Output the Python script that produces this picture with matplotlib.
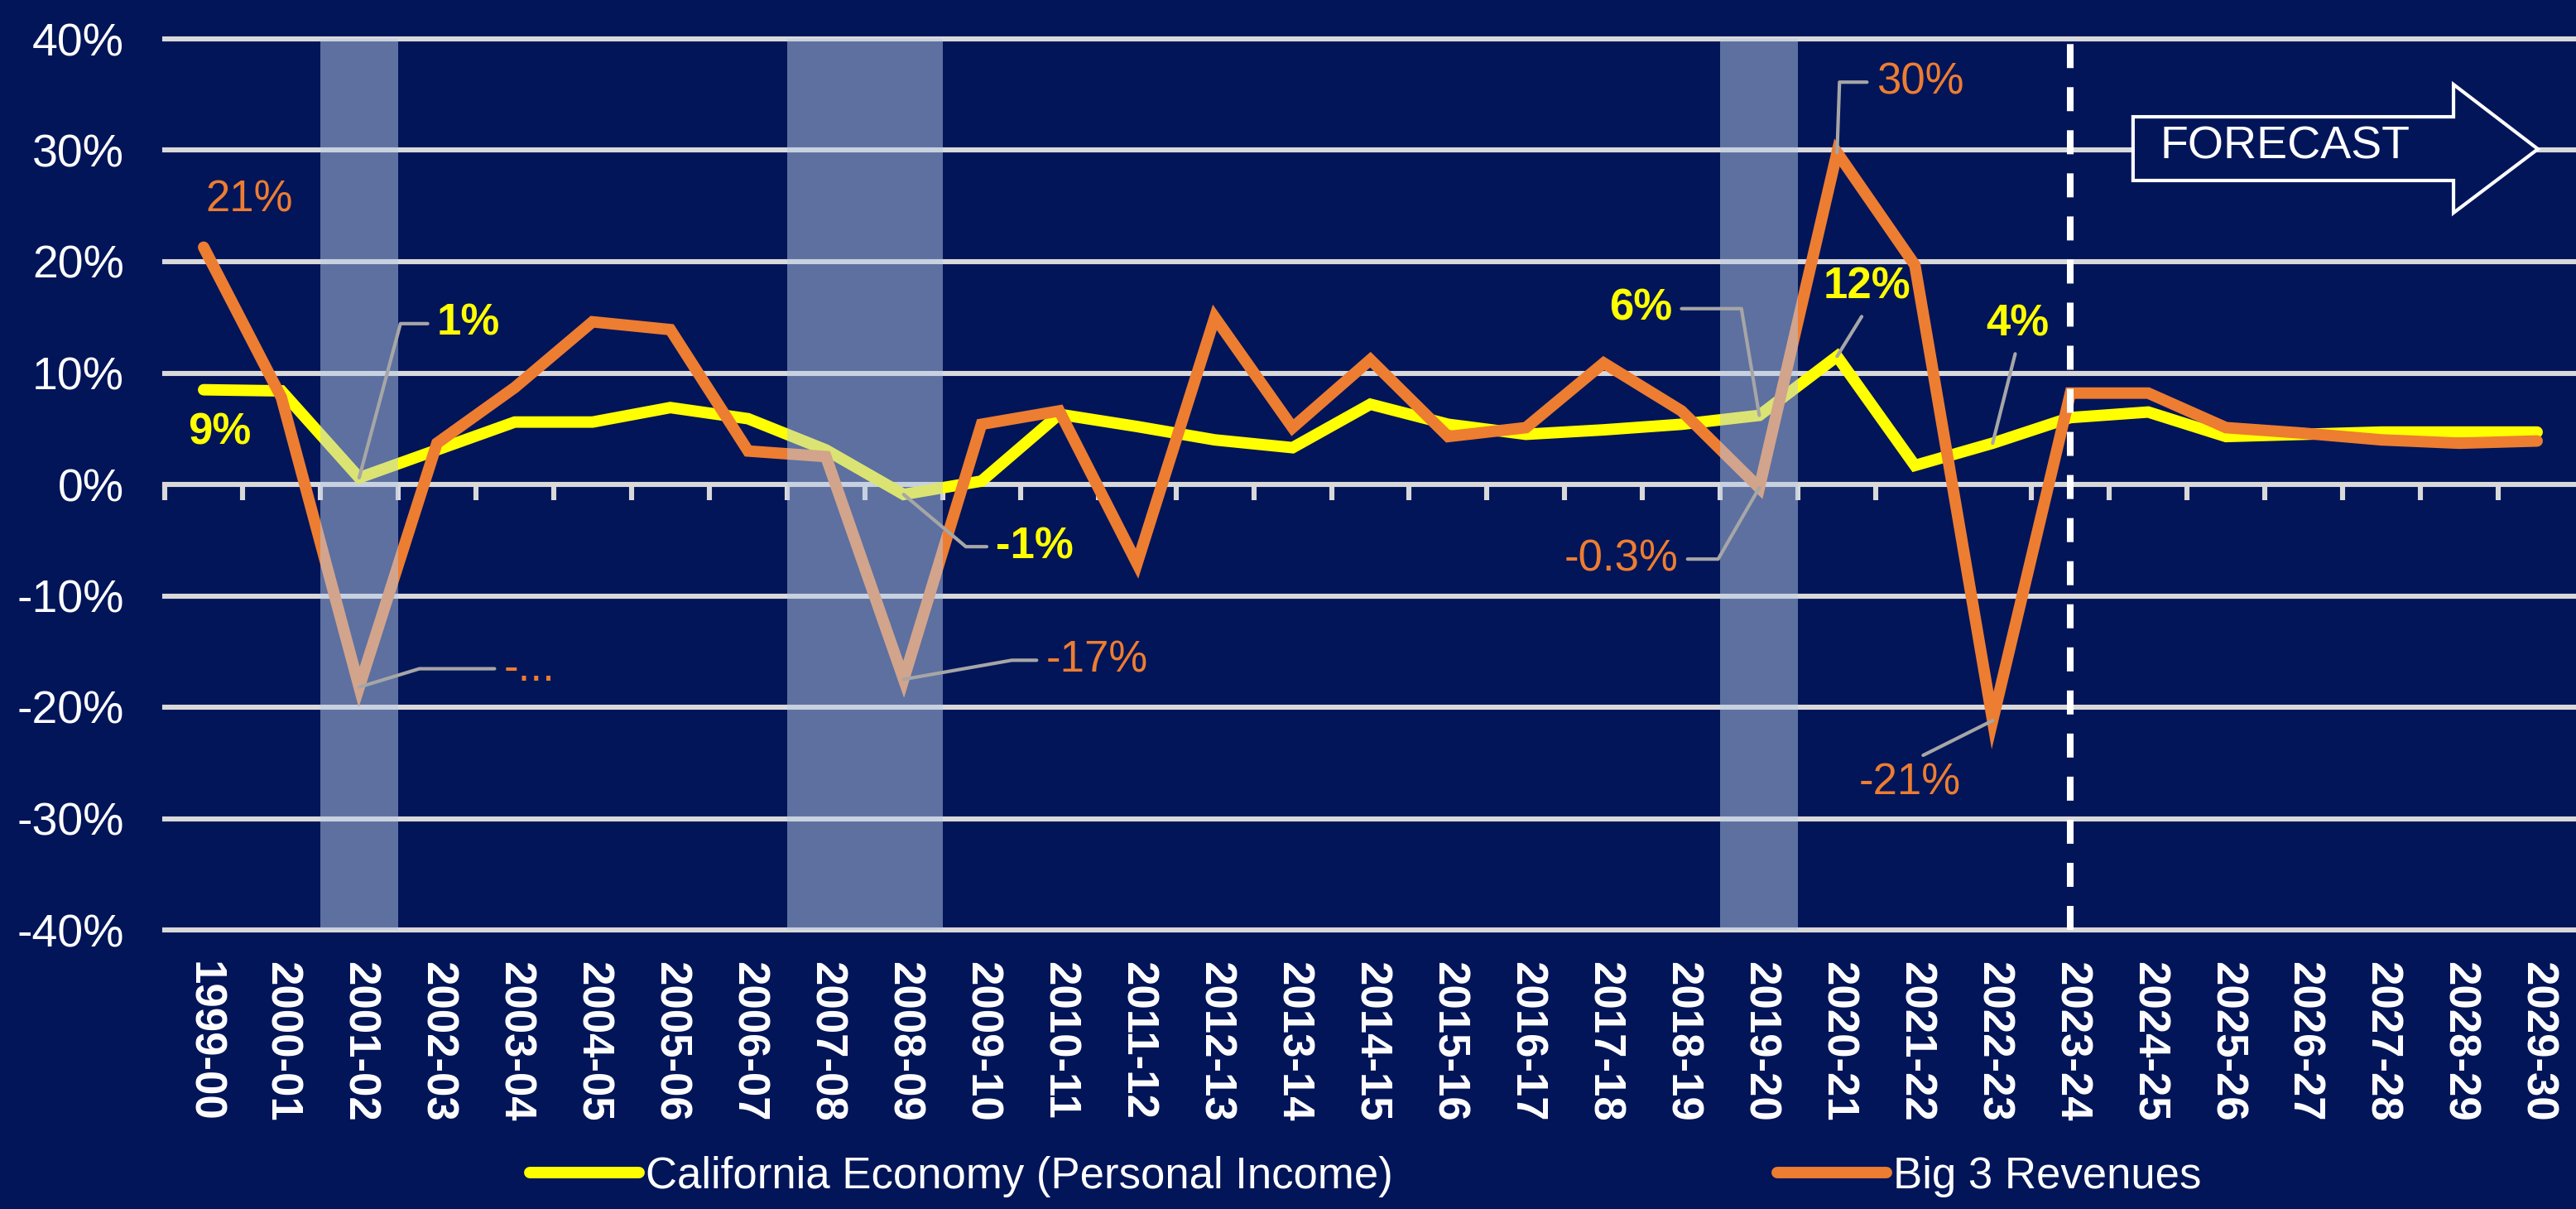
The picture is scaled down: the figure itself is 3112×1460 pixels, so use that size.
import numpy as np
import matplotlib
matplotlib.use("Agg")
import matplotlib.pyplot as plt
from matplotlib.patches import Polygon

plt.rcParams["font.family"] = ["Liberation Sans", "DejaVu Sans"]

""" Data """
years = ["1999-00", "2000-01", "2001-02", "2002-03", "2003-04", "2004-05", "2005-06",
         "2006-07", "2007-08", "2008-09", "2009-10", "2010-11", "2011-12", "2012-13",
         "2013-14", "2014-15", "2015-16", "2016-17", "2017-18", "2018-19", "2019-20",
         "2020-21", "2021-22", "2022-23", "2023-24", "2024-25", "2025-26", "2026-27",
         "2027-28", "2028-29", "2029-30"]
income = [8.5, 8.4, 0.6, 3.1, 5.6, 5.6, 6.9, 5.9, 3.1, -0.9, 0.3, 6.3, 5.2, 4.0, 3.3, 7.2,
          5.4, 4.5, 4.9, 5.4, 6.2, 11.5, 1.7, 3.7, 6.0, 6.5, 4.3, 4.5, 4.7, 4.7, 4.7]
revenues = [21.3, 7.8, -18.2, 3.7, 8.7, 14.6, 13.9, 3.0, 2.5, -17.5, 5.4, 6.6, -7.1, 15.0,
            5.1, 11.2, 4.3, 5.1, 10.9, 6.6, -0.3, 29.8, 19.7, -21.2, 8.2, 8.2, 5.1, 4.6,
            4.0, 3.7, 3.9]
recession_years = [["2001-02"], ["2007-08", "2008-09"], ["2019-20"]]
forecast_start = "2023-24"
income_name = "California Economy (Personal Income)"
revenues_name = "Big 3 Revenues"

# (series, year, text)
point_labels = [
    ("revenues", "1999-00", "21%"),
    ("income", "1999-00", "9%"),
    ("income", "2001-02", "1%"),
    ("revenues", "2001-02", "-..."),
    ("income", "2008-09", "-1%"),
    ("revenues", "2008-09", "-17%"),
    ("income", "2019-20", "6%"),
    ("revenues", "2019-20", "-0.3%"),
    ("income", "2020-21", "12%"),
    ("revenues", "2020-21", "30%"),
    ("revenues", "2022-23", "-21%"),
    ("income", "2022-23", "4%"),
]

""" Style """
NAVY = "#021559"
YELLOW = "#FFFF00"
ORANGE = "#ED7D31"
GRID = "#D9D9D9"
LEADER = "#A6A6A6"
BAND = (184 / 255, 203 / 255, 231 / 255)

# label offsets in points from the point, and leader type
label_layout = {
    ("revenues", "1999-00"): (20, 20.5, None),
    ("income", "1999-00"): (7, -18.5, None),
    ("income", "2001-02"): (47.5, 67, ("angle", 75)),
    ("revenues", "2001-02"): (74, 8, ("angle", 17)),
    ("income", "2008-09"): (57, -22.7, ("angle", -40)),
    ("revenues", "2008-09"): (84, 8.3, ("angle", 10)),
    ("income", "2019-20"): (-51.5, 46.4, ("angle", 99.5)),
    ("revenues", "2019-20"): (-60, -31, ("angle", 60)),
    ("income", "2020-21"): (13, 30, ("straight", (0.5, 0))),
    ("revenues", "2020-21"): (36, 30.6, ("angle", 88)),
    ("revenues", "2022-23"): (-36, -27, ("straight", (0.5, 1))),
    ("income", "2022-23"): (10.8, 51.8, ("straight", (0.5, 0))),
}

fig = plt.figure(figsize=(3112 / 200, 1460 / 200), dpi=200, facecolor=NAVY)
ax = fig.add_axes([199 / 3112, 1 - 1123 / 1460, 2913 / 3112, 1076 / 1460])
ax.set_facecolor(NAVY)

x = np.arange(len(years))
line_income, = ax.plot(x, income, color=YELLOW, lw=5, solid_capstyle="round",
                       solid_joinstyle="miter", zorder=3, label=income_name)
line_rev, = ax.plot(x, revenues, color=ORANGE, lw=5, solid_capstyle="round",
                    solid_joinstyle="miter", zorder=3.1, label=revenues_name)

# recession bands on top of the lines (they fade them)
for group in recession_years:
    i0 = years.index(group[0])
    i1 = years.index(group[-1])
    ax.axvspan(i0 - 0.5, i1 + 0.5, color=BAND, alpha=0.5, lw=0, zorder=5)

# forecast divider
fi = years.index(forecast_start)
ax.axvline(fi, color="white", lw=2.9, dashes=(3.6, 2.86), zorder=4)

# axes setup
ax.set_xlim(-0.5, len(years) - 0.5)
ax.set_ylim(-40, 40)
ax.set_yticks(np.arange(-40, 41, 10))
ax.yaxis.set_major_formatter(plt.FuncFormatter(lambda v, p: "{:.0f}%".format(v)))
ax.set_xticks(x)
ax.set_xticklabels(years, rotation=270, fontsize=19, fontweight="bold", color="white",
                   ha="center", va="top")
ax.tick_params(axis="x", length=0, pad=13.7)
ax.tick_params(axis="y", length=0, pad=17.6, labelsize=20, labelcolor="white")
ax.yaxis.grid(True, color=GRID, lw=2.2, zorder=1)
ax.set_axisbelow(True)
for gl in ax.get_ygridlines():
    gl.set_clip_on(False)
for s in ax.spines.values():
    s.set_visible(False)

# category tick marks on the zero line
sec = ax.secondary_xaxis(0.5)
sec.set_alignment("bottom")
sec.set_xticks(np.arange(-0.5, len(years) - 0.5, 1))
sec.set_xticklabels([])
sec.tick_params(direction="out", length=6.8, width=2.2, color=GRID)
for s in sec.spines.values():
    s.set_visible(False)

# data labels with leader lines
for series, year, text in point_labels:
    i = years.index(year)
    vals = income if series == "income" else revenues
    color = YELLOW if series == "income" else ORANGE
    weight = "bold" if series == "income" else "normal"
    dx, dy, leader = label_layout[(series, year)]
    arrowprops = None
    if leader is not None and leader[0] == "angle":
        arrowprops = dict(arrowstyle="-", color=LEADER, lw=1.5, shrinkB=0,
                          connectionstyle="angle,angleA=0,angleB={},rad=0".format(leader[1]))
    elif leader is not None:
        arrowprops = dict(arrowstyle="-", color=LEADER, lw=1.5, shrinkB=0,
                          relpos=leader[1])
    ax.annotate(text, xy=(i, vals[i]), xytext=(dx, dy), textcoords="offset points",
                ha="center", va="center", color=color, fontsize=19, fontweight=weight,
                arrowprops=arrowprops, zorder=6)

# FORECAST arrow
arrow_pts = [(0.8163, 0.9126), (0.9492, 0.9126), (0.9492, 0.9489), (0.9842, 0.8764),
             (0.9492, 0.8048), (0.9492, 0.8411), (0.8163, 0.8411)]
ax.add_patch(Polygon(arrow_pts, closed=True, transform=ax.transAxes, facecolor=NAVY,
                     edgecolor="white", lw=1.5, clip_on=False, zorder=6))
ax.text(0.8792, 0.879, "FORECAST", transform=ax.transAxes, ha="center", va="center",
        color="white", fontsize=20, zorder=7)

# legend
leg = fig.legend(handles=[line_income, line_rev], loc="center", bbox_to_anchor=(0.530, 0.027),
                 ncol=2, frameon=False, handlelength=2.5, handletextpad=0.15,
                 columnspacing=8.8, fontsize=19)
for t in leg.get_texts():
    t.set_color("white")

fig.savefig("out.png", dpi=200, facecolor=NAVY)
